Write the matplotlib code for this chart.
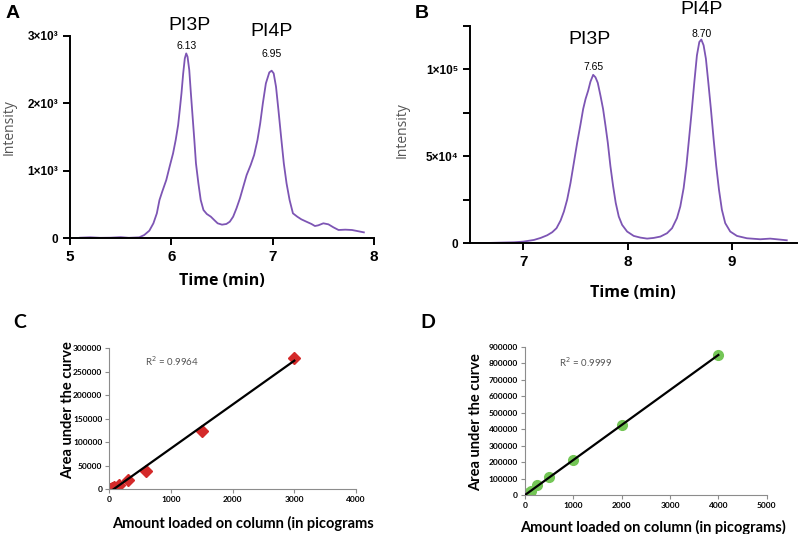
import numpy as np
import matplotlib
matplotlib.use("Agg")
import matplotlib.pyplot as plt

# ── Data ──────────────────────────────────────────────────────
# Panel A: chromatogram (time in min, intensity)
a_time = [5.10, 5.20, 5.30, 5.40, 5.50, 5.58, 5.65, 5.683, 5.733, 5.783, 5.823, 5.857,
          5.883, 5.91, 5.95, 5.983, 6.017, 6.043, 6.067, 6.083, 6.10, 6.117, 6.133,
          6.147, 6.16, 6.177, 6.193, 6.21, 6.227, 6.243, 6.267, 6.29, 6.317, 6.35,
          6.39, 6.423, 6.457, 6.50, 6.543, 6.577, 6.61, 6.643, 6.677, 6.71, 6.743,
          6.783, 6.817, 6.85, 6.877, 6.903, 6.933, 6.967, 6.99, 7.01, 7.033, 7.057,
          7.083, 7.11, 7.137, 7.167, 7.20, 7.243, 7.283, 7.333, 7.383, 7.417, 7.45,
          7.50, 7.55, 7.60, 7.65, 7.717, 7.783, 7.85, 7.90]
a_int = [12, 18, 10, 12, 20, 10, 15, 17, 52, 116, 225, 373,
         570, 694, 866, 1064, 1261, 1459, 1681, 1903, 2150, 2446, 2668,
         2742, 2693, 2495, 2150, 1804, 1459, 1113, 817, 570, 422, 363,
         323, 274, 225, 205, 215, 249, 323, 447, 595, 768, 940,
         1089, 1237, 1459, 1706, 2002, 2298, 2461, 2486, 2446, 2249, 1903,
         1508, 1113, 817, 570, 373, 323, 284, 249, 215, 185, 195,
         225, 210, 165, 126, 131, 126, 106, 91]

# Panel B: chromatogram
b_time = [6.513, 6.656, 6.783, 6.911, 7.0, 7.102, 7.166, 7.229, 7.277, 7.318, 7.357,
          7.389, 7.42, 7.452, 7.484, 7.516, 7.548, 7.573, 7.596, 7.621, 7.643, 7.669,
          7.691, 7.713, 7.739, 7.764, 7.787, 7.809, 7.834, 7.86, 7.885, 7.914, 7.946,
          7.994, 8.057, 8.121, 8.185, 8.248, 8.312, 8.376, 8.424, 8.471, 8.503, 8.535,
          8.561, 8.586, 8.611, 8.637, 8.662, 8.685, 8.704, 8.726, 8.748, 8.771, 8.796,
          8.822, 8.847, 8.873, 8.901, 8.933, 8.981, 9.045, 9.14, 9.268, 9.363, 9.459,
          9.522]
b_int = [0, 190, 390, 580, 960, 1930, 3090, 4630, 6370, 8690, 13100,
         18300, 25100, 34700, 46300, 57900, 68500, 77200, 83000, 87800, 93000, 96900,
         95500, 92300, 84900, 77200, 67600, 57900, 44400, 32800, 23200, 15400, 10600,
         6760, 4250, 3280, 2700, 3090, 3860, 5790, 8690, 14500, 21200, 31800,
         44400, 59800, 75300, 92600, 108100, 115800, 117200, 113900, 106200, 92600, 77200,
         59800, 44400, 30900, 19300, 11600, 6760, 4250, 2900, 2320, 2700, 2120,
         1740]

# Panel C: calibration PI3P
c_amount = [18.75, 37.5, 75, 150, 300, 600, 1500, 3000]
c_area = [600, 1800, 4500, 9000, 19000, 40000, 125000, 280000]

# Panel D: calibration PI4P
d_amount = [15.6, 31.25, 62.5, 125, 250, 500, 1000, 2000, 4000]
d_area = [3000, 6000, 12000, 25000, 58000, 107000, 210000, 425000, 850000]

PURPLE = "#7d55b4"
RED = "#d42a2a"
GREEN = "#74c656"
ARIAL = ["Liberation Sans", "DejaVu Sans"]
LABEL = ["Open Sans", "DejaVu Sans"]
XL = ["Lato", "DejaVu Sans"]

W, H = 798, 534
fig = plt.figure(figsize=(W / 100, H / 100), dpi=100)


def box(left, top, right, bottom):
    return [left / W, 1 - bottom / H, (right - left) / W, (bottom - top) / H]


def ftext(x, y, s, **kw):
    fig.text(x / W, 1 - y / H, s, **kw)


def chrom_axes(ax):
    for s in ["top", "right"]:
        ax.spines[s].set_visible(False)
    for s in ["left", "bottom"]:
        ax.spines[s].set_linewidth(1.4)
    ax.tick_params(direction="out", length=5, width=1.4)
    ax.tick_params(which="minor", direction="out", length=5, width=1.4)


# ── Panel A ───────────────────────────────────────────────────
ax = fig.add_axes(box(70, 36, 374, 238.5))
ax.plot(a_time, a_int, color=PURPLE, lw=1.3)
ax.set_xlim(5, 8)
ax.set_ylim(0, 3000)
chrom_axes(ax)
ax.set_xticks([5, 6, 7, 8])
ax.set_xticklabels(["5", "6", "7", "8"], fontsize=11, fontweight="bold", family=ARIAL)
ax.set_yticks([0, 1000, 2000, 3000])
ax.set_yticklabels(["0", "1×10³", "2×10³", "3×10³"], fontsize=8.5,
                   fontweight="bold", family=ARIAL)
ax.tick_params(axis="x", pad=3)
ftext(190, 25, "PI3P", fontsize=14, ha="center", va="center", family=ARIAL)
ftext(187, 46, "6.13", fontsize=7.5, ha="center", va="center", family=ARIAL)
ftext(272, 31, "PI4P", fontsize=14, ha="center", va="center", family=ARIAL)
ftext(272, 54, "6.95", fontsize=7.5, ha="center", va="center", family=ARIAL)
ftext(9, 127, "Intensity", fontsize=10, rotation=90, ha="center", va="center",
      color="#555555", family=LABEL)
ftext(222, 281, "Time (min)", fontsize=11.5, fontweight="bold", ha="center",
      va="center", family=LABEL)
ftext(13, 14, "A", fontsize=14, fontweight="bold", ha="center", va="center", family=ARIAL)

# ── Panel B ───────────────────────────────────────────────────
ax = fig.add_axes(box(470, 26, 797, 243.3))
ax.plot(b_time, b_int, color=PURPLE, lw=1.3)
ax.set_xlim(6.49, 9.62)
ax.set_ylim(0, 125000)
chrom_axes(ax)
ax.set_xticks([7, 8, 9])
ax.set_xticklabels(["7", "8", "9"], fontsize=11, fontweight="bold", family=ARIAL)
ax.set_yticks([0, 50000, 100000])
ax.set_yticklabels(["0", "5×10⁴", "1×10⁵"], fontsize=8.5, fontweight="bold", family=ARIAL)
ax.set_yticks([25000, 75000, 125000], minor=True)
ftext(590, 40, "PI3P", fontsize=14, ha="center", va="center", family=ARIAL)
ftext(593, 67, "7.65", fontsize=7.5, ha="center", va="center", family=ARIAL)
ftext(702, 9, "PI4P", fontsize=14, ha="center", va="center", family=ARIAL)
ftext(702, 34, "8.70", fontsize=7.5, ha="center", va="center", family=ARIAL)
ftext(402, 130, "Intensity", fontsize=10, rotation=90, ha="center", va="center",
      color="#555555", family=LABEL)
ftext(633, 293, "Time (min)", fontsize=11.5, fontweight="bold", ha="center",
      va="center", family=LABEL)
ftext(422, 14, "B", fontsize=14, fontweight="bold", ha="center", va="center", family=ARIAL)


# ── Calibration panels ────────────────────────────────────────
def calib_axes(ax):
    for s in ["top", "right"]:
        ax.spines[s].set_visible(False)
    for s in ["left", "bottom"]:
        ax.spines[s].set_color("#8c8c8c")
        ax.spines[s].set_linewidth(0.8)
    ax.tick_params(direction="out", length=3, width=0.8, color="#8c8c8c", pad=2)
    for lab in ax.get_xticklabels() + ax.get_yticklabels():
        lab.set_fontsize(6)
        lab.set_fontweight("bold")
        lab.set_family(XL)


def fit_line(ax, x, y):
    m, b = np.polyfit(x, y, 1)
    xs = np.array([min(x), max(x)])
    ax.plot(xs, m * xs + b, color="black", lw=1.6, zorder=3)


# Panel C
ax = fig.add_axes(box(109.3, 348.3, 356, 489.3))
ax.plot(c_amount, c_area, ls="none", marker="D", ms=6, color=RED, zorder=2)
fit_line(ax, c_amount, c_area)
ax.set_xlim(0, 4000)
ax.set_ylim(0, 300000)
ax.set_xticks(np.arange(0, 4001, 1000))
ax.set_yticks(np.arange(0, 300001, 50000))
calib_axes(ax)
ftext(172, 361, "R$^2$ = 0.9964", fontsize=7, ha="center", va="center",
      color="#555555", family=XL)
ftext(68, 410, "Area under the curve", fontsize=10.5, fontweight="bold", rotation=90,
      ha="center", va="center", family=XL)
ftext(243, 523, "Amount loaded on column (in picograms", fontsize=10.5,
      fontweight="bold", ha="center", va="center", family=XL)
ftext(20, 323, "C", fontsize=14, fontweight="bold", ha="center", va="center", family=XL)

# Panel D
ax = fig.add_axes(box(525, 346.7, 766.7, 495))
ax.plot(d_amount, d_area, ls="none", marker="o", ms=7, color=GREEN, zorder=2)
fit_line(ax, d_amount, d_area)
ax.set_xlim(0, 5000)
ax.set_ylim(0, 900000)
ax.set_xticks(np.arange(0, 5001, 1000))
ax.set_yticks(np.arange(0, 900001, 100000))
calib_axes(ax)
ftext(586, 362, "R$^2$ = 0.9999", fontsize=7, ha="center", va="center",
      color="#555555", family=XL)
ftext(476, 422, "Area under the curve", fontsize=10.5, fontweight="bold", rotation=90,
      ha="center", va="center", family=XL)
ftext(653, 527, "Amount loaded on column (in picograms)", fontsize=10.5,
      fontweight="bold", ha="center", va="center", family=XL)
ftext(428, 323, "D", fontsize=14, fontweight="bold", ha="center", va="center", family=XL)

fig.savefig("out.png", dpi=100)
